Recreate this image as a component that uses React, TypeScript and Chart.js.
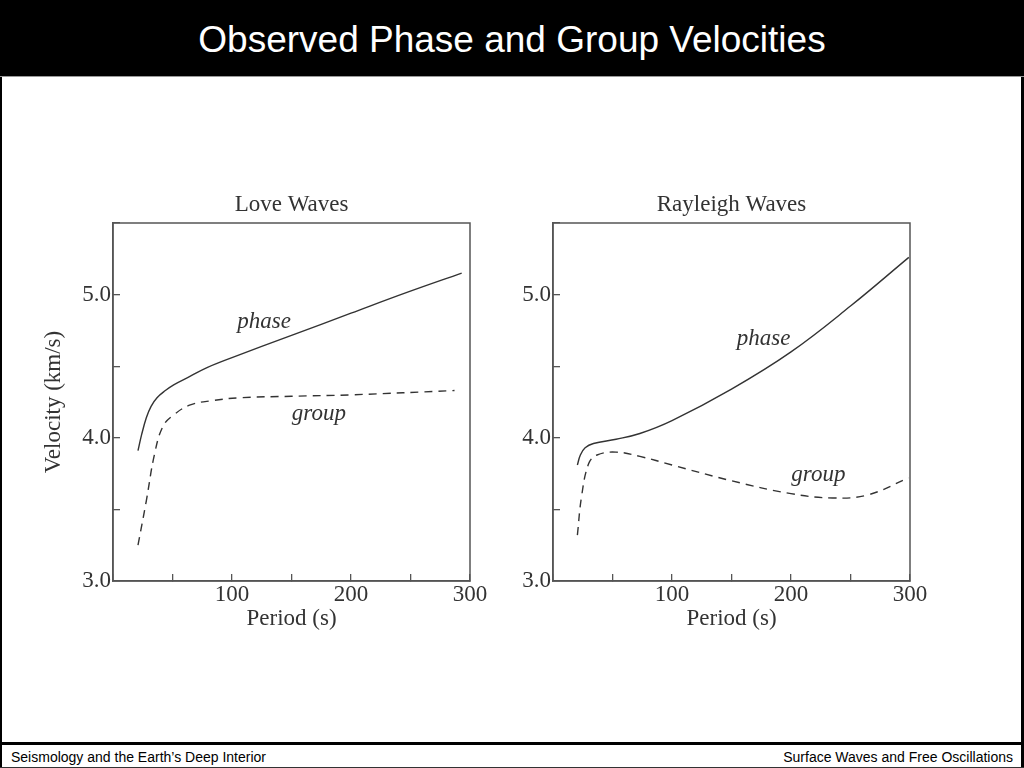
import React, { useEffect, useRef } from "react";
import { Chart, registerables } from "chart.js";

Chart.register(...registerables);

// ---------- data ----------
const slideTitle = "Observed Phase and Group Velocities";
const footerLeft = "Seismology and the Earth\u2019s Deep Interior";
const footerRight = "Surface Waves and Free Oscillations";

const loveTitle = "Love Waves";
const rayleighTitle = "Rayleigh Waves";
const xAxisTitle = "Period (s)";
const yAxisTitle = "Velocity (km/s)";

const xTickLabels = [100, 200, 300];
const yTickLabels = [3.0, 4.0, 5.0];

// Love waves
const lovePhasePeriod = [21, 24, 28, 32, 37, 44, 51, 65, 79, 100, 150, 200, 247, 293];
const lovePhaseVel = [3.91, 4.02, 4.14, 4.22, 4.28, 4.33, 4.37, 4.43, 4.49, 4.56, 4.715, 4.87, 5.015, 5.15];
const loveGroupPeriod = [21, 28, 35, 42, 51, 65, 84, 107, 150, 200, 287];
const loveGroupVel = [3.25, 3.56, 3.89, 4.08, 4.16, 4.23, 4.26, 4.28, 4.29, 4.3, 4.33];

// Rayleigh waves
const rayPhasePeriod = [20.5, 23, 27, 34, 53, 73, 100, 150, 200, 250, 299];
const rayPhaseVel = [3.81, 3.88, 3.93, 3.96, 3.99, 4.03, 4.12, 4.34, 4.6, 4.92, 5.26];
const rayGroupPeriod = [20.5, 24, 30, 37, 53, 73, 100, 150, 200, 235, 264, 299];
const rayGroupVel = [3.32, 3.59, 3.82, 3.88, 3.9, 3.87, 3.81, 3.7, 3.61, 3.58, 3.6, 3.72];

// curve labels (text, period, velocity)
const loveNoteText = ["phase", "group"];
const loveNoteX = [127, 173];
const loveNoteY = [4.81, 4.17];
const rayNoteText = ["phase", "group"];
const rayNoteX = [177, 223];
const rayNoteY = [4.69, 3.74];

// ---------- helpers ----------
const SERIF = "'Liberation Serif', 'Times New Roman', serif";
const INK = "#333";
const AXIS = "#555";

const zip = (xs: number[], ys: number[]) => xs.map((x, i) => ({ x, y: ys[i] }));

const framePlugin = {
  id: "frame",
  afterDraw(chart: any) {
    const { ctx, chartArea } = chart;
    ctx.save();
    ctx.strokeStyle = AXIS;
    ctx.lineWidth = 1.5;
    ctx.strokeRect(chartArea.left, chartArea.top, chartArea.right - chartArea.left, chartArea.bottom - chartArea.top);
    ctx.restore();
  },
};

const notesPlugin = {
  id: "notes",
  afterDraw(chart: any, _args: any, opts: any) {
    const { ctx } = chart;
    const xs = chart.scales.x;
    const ys = chart.scales.y;
    ctx.save();
    ctx.font = `italic 23px ${SERIF}`;
    ctx.fillStyle = INK;
    ctx.textAlign = "center";
    ctx.textBaseline = "middle";
    (opts.text || []).forEach((t: string, i: number) => {
      ctx.fillText(t, xs.getPixelForValue(opts.x[i]), ys.getPixelForValue(opts.y[i]));
    });
    ctx.restore();
  },
};

type PanelProps = {
  title: string;
  phaseX: number[];
  phaseY: number[];
  groupX: number[];
  groupY: number[];
  noteText: string[];
  noteX: number[];
  noteY: number[];
  showYTitle: boolean;
  left: number;
  top: number;
  width: number;
  height: number;
  yWidth: number;
  rightPad: number;
};

function Panel(p: PanelProps) {
  const ref = useRef<HTMLCanvasElement | null>(null);
  useEffect(() => {
    if (!ref.current) return;
    const font = { family: SERIF, size: 23, weight: "normal" as const, lineHeight: 1.2 };
    const chart = new Chart(ref.current, {
      type: "line",
      data: {
        datasets: [
          {
            label: "phase",
            data: zip(p.phaseX, p.phaseY),
            borderColor: INK,
            borderWidth: 1.4,
            pointRadius: 0,
            fill: false,
            tension: 0.4,
          },
          {
            label: "group",
            data: zip(p.groupX, p.groupY),
            borderColor: INK,
            borderWidth: 1.4,
            borderDash: [8, 6],
            pointRadius: 0,
            fill: false,
            tension: 0.4,
          },
        ],
      },
      options: {
        responsive: false,
        animation: false,
        devicePixelRatio: 1,
        layout: { padding: { left: 0, right: p.rightPad, top: 0, bottom: 0 } },
        plugins: {
          legend: { display: false },
          tooltip: { enabled: false },
          title: {
            display: true,
            fullSize: false,
            text: p.title,
            color: INK,
            font,
            padding: { top: 21, bottom: 4.4 },
          },
          notes: { text: p.noteText, x: p.noteX, y: p.noteY },
        } as any,
        scales: {
          x: {
            type: "linear",
            min: 0,
            max: 300,
            afterFit: (s: any) => {
              s.height = 69;
            },
            ticks: {
              stepSize: 50,
              autoSkip: false,
              maxRotation: 0,
              color: INK,
              font,
              padding: 7,
              callback: (v: any) => (xTickLabels.includes(Number(v)) ? String(v) : ""),
            },
            grid: { drawOnChartArea: false, drawTicks: true, tickLength: -7, color: AXIS, lineWidth: 1.3 },
            border: { display: true, color: AXIS, width: 1.5 },
            title: { display: true, text: xAxisTitle, color: INK, font, padding: { top: 0, bottom: 17.2 } },
          },
          y: {
            type: "linear",
            min: 3,
            max: 5.5,
            afterFit: (s: any) => {
              s.width = p.yWidth;
            },
            ticks: {
              stepSize: 0.5,
              autoSkip: false,
              color: INK,
              font,
              padding: 9,
              callback: (v: any) => (yTickLabels.includes(Number(v)) ? Number(v).toFixed(1) : ""),
            },
            grid: { drawOnChartArea: false, drawTicks: true, tickLength: -7, color: AXIS, lineWidth: 1.3 },
            border: { display: true, color: AXIS, width: 1.5 },
            title: {
              display: p.showYTitle,
              text: yAxisTitle,
              color: INK,
              font,
              padding: { top: 20.2, bottom: 0 },
            },
          },
        },
      } as any,
      plugins: [framePlugin, notesPlugin],
    });
    return () => chart.destroy();
  }, []);
  return (
    <canvas
      ref={ref}
      width={p.width}
      height={p.height}
      style={{ position: "absolute", left: p.left, top: p.top, width: p.width, height: p.height }}
    />
  );
}

export default function App() {
  return (
    <div
      style={{
        position: "absolute",
        left: 0,
        top: 0,
        width: 1024,
        height: 768,
        background: "#fff",
        overflow: "hidden",
        fontFamily: "'Liberation Sans', Arial, sans-serif",
      }}
    >
      <div style={{ position: "absolute", left: 0, top: 0, width: 1024, height: 76, background: "#000" }} />
      <div
        style={{
          position: "absolute",
          left: 0,
          top: 2,
          width: 1024,
          height: 76,
          lineHeight: "76px",
          textAlign: "center",
          color: "#fff",
          fontSize: 37,
          whiteSpace: "nowrap",
        }}
      >
        {slideTitle}
      </div>
      <div style={{ position: "absolute", left: 0, top: 76, width: 1024, height: 1, background: "#999" }} />
      <div style={{ position: "absolute", left: 0, top: 77, width: 2, height: 691, background: "#000" }} />
      <div style={{ position: "absolute", left: 1021, top: 77, width: 3, height: 691, background: "#000" }} />
      <div style={{ position: "absolute", left: 0, top: 742, width: 1024, height: 3, background: "#000" }} />
      <div style={{ position: "absolute", left: 0, top: 767, width: 1024, height: 1, background: "#333" }} />
      <div
        style={{
          position: "absolute",
          left: 11,
          top: 748,
          height: 18,
          lineHeight: "18px",
          fontSize: 14,
          color: "#000",
          whiteSpace: "nowrap",
        }}
      >
        {footerLeft}
      </div>
      <div
        style={{
          position: "absolute",
          right: 11,
          top: 748,
          height: 18,
          lineHeight: "18px",
          fontSize: 14,
          color: "#000",
          whiteSpace: "nowrap",
        }}
      >
        {footerRight}
      </div>

      <Panel
        title={loveTitle}
        phaseX={lovePhasePeriod}
        phaseY={lovePhaseVel}
        groupX={loveGroupPeriod}
        groupY={loveGroupVel}
        noteText={loveNoteText}
        noteX={loveNoteX}
        noteY={loveNoteY}
        showYTitle={true}
        left={20}
        top={170}
        width={480}
        height={480}
        yWidth={93}
        rightPad={30}
      />
      <Panel
        title={rayleighTitle}
        phaseX={rayPhasePeriod}
        phaseY={rayPhaseVel}
        groupX={rayGroupPeriod}
        groupY={rayGroupVel}
        noteText={rayNoteText}
        noteX={rayNoteX}
        noteY={rayNoteY}
        showYTitle={false}
        left={480}
        top={170}
        width={480}
        height={480}
        yWidth={73}
        rightPad={50}
      />
    </div>
  );
}
